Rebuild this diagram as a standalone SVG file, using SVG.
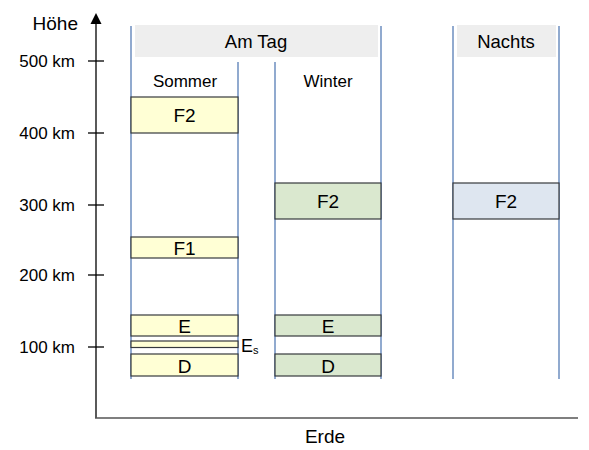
<svg xmlns="http://www.w3.org/2000/svg" width="589" height="450" viewBox="0 0 589 450">
  <style>
    text { font-family: "Liberation Sans", Arial, sans-serif; fill: #000; }
    .lbl { font-size: 17px; text-anchor: end; }
    .hdr { font-size: 18.5px; text-anchor: middle; }
    .sub { font-size: 17px; text-anchor: middle; }
    .box { font-size: 19px; text-anchor: middle; }
    .col { stroke: #6c8ebf; stroke-width: 1.5; fill: none; }
    .head { fill: #eeeeee; stroke: none; }
    .sum { fill: #ffffd5; stroke: #36393d; stroke-width: 1.2; }
    .win { fill: #dae8cf; stroke: #36393d; stroke-width: 1.2; }
    .ngt { fill: #dee6f0; stroke: #36393d; stroke-width: 1.2; }
    .axis { stroke: #000; stroke-width: 1.3; fill: none; }
  </style>

  <!-- axes -->
  <g id="axes">
    <line class="axis" x1="96" y1="418" x2="96" y2="24"/>
    <path d="M90.5,24 L96,13 L101.5,24 Z" fill="#000"/>
    <line x1="95" y1="418" x2="578" y2="418" stroke="#555" stroke-width="1.5"/>
    <line class="axis" x1="88" y1="61" x2="104" y2="61"/>
    <line class="axis" x1="88" y1="133" x2="104" y2="133"/>
    <line class="axis" x1="88" y1="205" x2="104" y2="205"/>
    <line class="axis" x1="88" y1="275" x2="104" y2="275"/>
    <line class="axis" x1="88" y1="347" x2="104" y2="347"/>
    <text x="78" y="30" style="font-size:19px" text-anchor="end">Höhe</text>
    <text class="lbl" x="75" y="67">500 km</text>
    <text class="lbl" x="75" y="139">400 km</text>
    <text class="lbl" x="75" y="211">300 km</text>
    <text class="lbl" x="75" y="281">200 km</text>
    <text class="lbl" x="75" y="353">100 km</text>
    <text x="325" y="443" style="font-size:19px" text-anchor="middle">Erde</text>
  </g>

  <!-- headers -->
  <g id="header-day">
    <rect class="head" x="135" y="25" width="243" height="32"/>
    <text class="hdr" x="256" y="48">Am Tag</text>
  </g>
  <g id="header-night">
    <rect class="head" x="457" y="25" width="99" height="32"/>
    <text class="hdr" x="506" y="48">Nachts</text>
  </g>

  <!-- column boundaries -->
  <g id="columns">
    <line class="col" x1="131" y1="26" x2="131" y2="379"/>
    <line class="col" x1="238" y1="62" x2="238" y2="379"/>
    <line class="col" x1="275" y1="62" x2="275" y2="379"/>
    <line class="col" x1="381" y1="26" x2="381" y2="379"/>
    <line class="col" x1="453" y1="26" x2="453" y2="379"/>
    <line class="col" x1="559" y1="26" x2="559" y2="379"/>
  </g>

  <!-- summer layers -->
  <g id="summer">
    <text class="sub" x="185" y="87">Sommer</text>
    <g id="summer-f2">
      <rect class="sum" x="131" y="97" width="107" height="36"/>
      <text class="box" x="184.5" y="122">F2</text>
    </g>
    <g id="summer-f1">
      <rect class="sum" x="131" y="237" width="107" height="21"/>
      <text class="box" x="184.5" y="255">F1</text>
    </g>
    <g id="summer-e">
      <rect class="sum" x="131" y="315" width="107" height="21"/>
      <text class="box" x="184.5" y="333">E</text>
    </g>
    <g id="summer-es">
      <rect class="sum" x="131" y="341" width="107" height="6.5" stroke="#000"/>
      <text x="241" y="352" style="font-size:18px">E<tspan style="font-size:11px" dy="2">s</tspan></text>
    </g>
    <g id="summer-d">
      <rect class="sum" x="131" y="354" width="107" height="22"/>
      <text class="box" x="184.5" y="372.5">D</text>
    </g>
  </g>

  <!-- winter layers -->
  <g id="winter">
    <text class="sub" x="328" y="87">Winter</text>
    <g id="winter-f2">
      <rect class="win" x="275" y="183" width="106" height="36"/>
      <text class="box" x="328" y="208">F2</text>
    </g>
    <g id="winter-e">
      <rect class="win" x="275" y="315" width="106" height="21"/>
      <text class="box" x="328" y="333">E</text>
    </g>
    <g id="winter-d">
      <rect class="win" x="275" y="354" width="106" height="22"/>
      <text class="box" x="328" y="372.5">D</text>
    </g>
  </g>

  <!-- night layer -->
  <g id="night">
    <g id="night-f2">
      <rect class="ngt" x="453" y="183" width="106" height="36"/>
      <text class="box" x="506" y="208">F2</text>
    </g>
  </g>
</svg>
